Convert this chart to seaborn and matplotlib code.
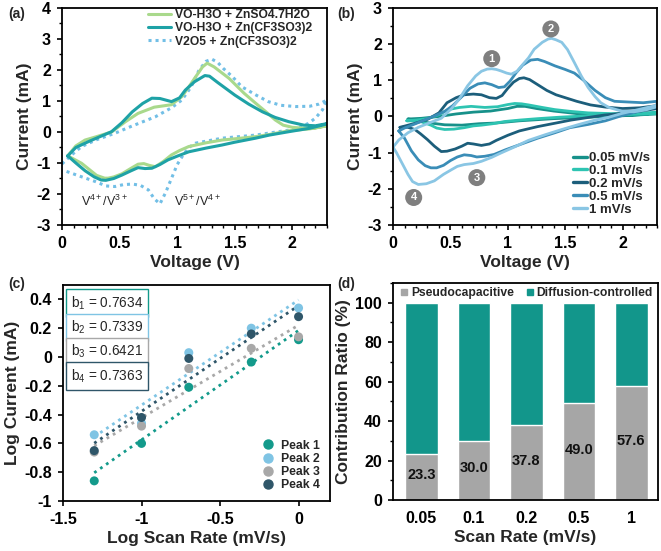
import numpy as np
import pandas as pd
import matplotlib
matplotlib.use("Agg")
import matplotlib.pyplot as plt
from matplotlib.lines import Line2D
from matplotlib.ticker import MultipleLocator, FuncFormatter
import seaborn as sns

# ---- (a) CV comparison, upper branch then lower branch ----
GREEN_UP_V = [0.05, 0.12, 0.2, 0.3, 0.43, 0.55, 0.66, 0.8, 0.95, 1.04, 1.1, 1.16, 1.22, 1.26, 1.32,
              1.45, 1.58, 1.68, 1.78, 1.85, 1.92, 2.0, 2.1, 2.2, 2.3]
GREEN_UP_I = [-0.77, -0.45, -0.26, -0.15, 0.0, 0.33, 0.6, 0.8, 0.88, 1.14, 1.45, 1.78, 2.1, 2.22, 2.1,
              1.73, 1.25, 0.93, 0.62, 0.39, 0.22, 0.15, 0.12, 0.13, 0.2]
GREEN_DN_V = [2.3, 2.15, 1.97, 1.8, 1.68, 1.5, 1.39, 1.25, 1.1, 1.02, 0.95, 0.88, 0.81, 0.76, 0.71,
              0.66, 0.6, 0.52, 0.45, 0.4, 0.37, 0.3, 0.26, 0.17, 0.05]
GREEN_DN_I = [0.2, 0.1, 0.04, -0.08, -0.15, -0.22, -0.26, -0.35, -0.47, -0.6, -0.74, -0.95, -1.12,
              -1.08, -1.02, -1.04, -1.17, -1.35, -1.45, -1.49, -1.49, -1.4, -1.28, -1.01, -0.77]

TEAL_UP_V = [0.05, 0.12, 0.23, 0.33, 0.43, 0.52, 0.61, 0.7, 0.78, 0.85, 0.95, 1.02, 1.07, 1.15, 1.24,
             1.28, 1.35, 1.5, 1.62, 1.74, 1.85, 1.97, 2.1, 2.2, 2.3]
TEAL_UP_I = [-0.77, -0.5, -0.31, -0.15, 0.01, 0.3, 0.65, 0.92, 1.09, 1.08, 0.98, 1.1, 1.35, 1.62, 1.82,
             1.8, 1.6, 1.19, 0.9, 0.65, 0.47, 0.33, 0.22, 0.2, 0.27]
TEAL_DN_V = [2.3, 2.15, 1.97, 1.8, 1.68, 1.5, 1.39, 1.25, 1.1, 1.0, 0.92, 0.85, 0.78, 0.72, 0.66, 0.6,
             0.52, 0.45, 0.38, 0.34, 0.28, 0.2, 0.12, 0.05]
TEAL_DN_I = [0.26, 0.12, 0.01, -0.1, -0.2, -0.33, -0.42, -0.52, -0.64, -0.78, -0.9, -1.05, -1.17, -1.18,
             -1.15, -1.25, -1.39, -1.5, -1.56, -1.55, -1.45, -1.25, -1.0, -0.77]

V2O5_UP_V = [0.0, 0.08, 0.17, 0.3, 0.46, 0.6, 0.81, 0.95, 1.04, 1.12, 1.19, 1.25, 1.3, 1.35, 1.4, 1.48,
             1.56, 1.68, 1.79, 1.9, 2.03, 2.15, 2.23, 2.3]
V2O5_UP_I = [-1.03, -0.75, -0.47, -0.25, -0.04, 0.18, 0.49, 0.78, 1.03, 1.45, 2.0, 2.28, 2.35, 2.25,
             2.05, 1.78, 1.46, 1.2, 0.98, 0.86, 0.82, 0.83, 0.9, 1.03]
V2O5_DN_V = [2.3, 2.26, 2.2, 2.14, 2.05, 1.97, 1.68, 1.39, 1.16, 1.1, 1.05, 1.0, 0.95, 0.9, 0.85, 0.8,
             0.75, 0.68, 0.61, 0.53, 0.46, 0.38, 0.29, 0.15, 0.03, 0.0]
V2O5_DN_I = [1.03, 0.71, 0.45, 0.28, 0.13, 0.06, -0.1, -0.2, -0.36, -0.5, -0.75, -1.05, -1.5, -1.95,
             -2.32, -2.15, -1.87, -1.72, -1.68, -1.7, -1.76, -1.74, -1.6, -1.42, -1.26, -1.25]

LABELS_A = ["VO-H3O + ZnSO4.7H2O", "VO-H3O + Zn(CF3SO3)2", "V2O5 + Zn(CF3SO3)2"]

# ---- (b) CV at different scan rates ----
RATES = ["0.05 mV/s", "0.1 mV/s", "0.2 mV/s", "0.5 mV/s", "1 mV/s"]

R005_UP_V = [0.13, 0.25, 0.4, 0.55, 0.7, 0.85, 1.0, 1.08, 1.15, 1.25, 1.4, 1.6, 1.8, 2.0, 2.15, 2.3]
R005_UP_I = [-0.07, -0.05, 0.0, 0.07, 0.12, 0.15, 0.22, 0.28, 0.28, 0.22, 0.15, 0.08, 0.04, 0.03, 0.05, 0.1]
R005_DN_V = [2.3, 2.0, 1.7, 1.4, 1.1, 0.9, 0.75, 0.6, 0.45, 0.3, 0.2, 0.13]
R005_DN_I = [0.07, 0.02, -0.02, -0.06, -0.12, -0.18, -0.2, -0.24, -0.23, -0.17, -0.1, -0.07]

R01_UP_V = [0.12, 0.2, 0.3, 0.4, 0.48, 0.58, 0.68, 0.8, 0.91, 1.0, 1.06, 1.12, 1.18, 1.3, 1.41, 1.55,
            1.7, 1.9, 2.1, 2.3]
R01_UP_I = [-0.12, -0.1, -0.06, 0.05, 0.19, 0.25, 0.28, 0.25, 0.27, 0.33, 0.36, 0.35, 0.32, 0.25, 0.19,
            0.14, 0.1, 0.08, 0.08, 0.12]
R01_DN_V = [2.3, 2.0, 1.7, 1.45, 1.26, 1.1, 0.97, 0.87, 0.77, 0.7, 0.62, 0.53, 0.45, 0.38, 0.33, 0.25,
            0.18, 0.12]
R01_DN_I = [0.08, 0.05, 0.02, -0.02, -0.06, -0.1, -0.14, -0.2, -0.24, -0.26, -0.31, -0.35, -0.36, -0.32,
            -0.24, -0.15, -0.12, -0.12]

R02_UP_V = [0.06, 0.12, 0.2, 0.3, 0.4, 0.47, 0.55, 0.62, 0.7, 0.77, 0.84, 0.9, 0.95, 1.0, 1.05, 1.1,
            1.14, 1.19, 1.26, 1.34, 1.42, 1.5, 1.6, 1.72, 1.85, 2.0, 2.15, 2.3]
R02_UP_I = [-0.3, -0.25, -0.18, -0.08, 0.1, 0.38, 0.52, 0.6, 0.62, 0.6, 0.52, 0.5, 0.58, 0.78, 0.95,
            1.05, 1.07, 1.02, 0.88, 0.72, 0.6, 0.52, 0.42, 0.32, 0.26, 0.22, 0.24, 0.3]
R02_DN_V = [2.3, 2.1, 1.84, 1.55, 1.26, 1.1, 1.0, 0.9, 0.84, 0.77, 0.7, 0.65, 0.6, 0.54, 0.47, 0.42,
            0.36, 0.3, 0.24, 0.19, 0.13, 0.06]
R02_DN_I = [0.22, 0.12, 0.04, -0.1, -0.28, -0.4, -0.52, -0.66, -0.76, -0.8, -0.76, -0.74, -0.82, -0.9,
            -0.96, -0.97, -0.82, -0.64, -0.48, -0.36, -0.3, -0.3]

R05_UP_V = [0.05, 0.1, 0.18, 0.25, 0.35, 0.45, 0.52, 0.6, 0.67, 0.74, 0.8, 0.86, 0.92, 0.97, 1.02, 1.07,
            1.13, 1.2, 1.26, 1.32, 1.41, 1.5, 1.58, 1.66, 1.76, 1.85, 1.93, 2.05, 2.18, 2.3]
R05_UP_I = [-0.4, -0.32, -0.22, -0.13, 0.0, 0.14, 0.3, 0.55, 0.78, 0.9, 0.93, 0.88, 0.8, 0.82, 0.98,
            1.2, 1.42, 1.56, 1.58, 1.52, 1.4, 1.3, 1.2, 1.0, 0.72, 0.52, 0.42, 0.4, 0.38, 0.42]
R05_DN_V = [2.3, 2.15, 1.99, 1.85, 1.7, 1.54, 1.41, 1.26, 1.12, 0.98, 0.88, 0.8, 0.73, 0.68, 0.62, 0.56,
            0.5, 0.44, 0.38, 0.33, 0.28, 0.22, 0.16, 0.1, 0.05]
R05_DN_I = [0.3, 0.15, 0.02, -0.12, -0.22, -0.31, -0.45, -0.6, -0.76, -0.92, -1.05, -1.1, -1.12, -1.08,
            -1.06, -1.12, -1.22, -1.35, -1.42, -1.42, -1.36, -1.2, -0.95, -0.6, -0.4]

R1_UP_V = [0.0, 0.05, 0.13, 0.22, 0.33, 0.42, 0.51, 0.58, 0.65, 0.72, 0.77, 0.82, 0.86, 0.9, 0.94, 0.99,
           1.03, 1.08, 1.12, 1.18, 1.23, 1.3, 1.35, 1.38, 1.42, 1.47, 1.52, 1.58, 1.64, 1.7, 1.76, 1.81,
           1.88, 1.99, 2.1, 2.2, 2.3]
R1_UP_I = [-0.85, -0.65, -0.45, -0.3, -0.16, -0.05, 0.22, 0.5, 0.85, 1.12, 1.25, 1.31, 1.32, 1.3, 1.26,
           1.2, 1.17, 1.25, 1.4, 1.62, 1.86, 2.05, 2.14, 2.16, 2.12, 2.05, 1.85, 1.49, 1.12, 0.8, 0.55,
           0.38, 0.25, 0.15, 0.13, 0.18, 0.27]
R1_DN_V = [2.3, 2.15, 1.99, 1.88, 1.76, 1.62, 1.47, 1.33, 1.18, 1.06, 0.94, 0.86, 0.77, 0.7, 0.62, 0.56,
           0.51, 0.44, 0.36, 0.29, 0.22, 0.17, 0.13, 0.08, 0.03, 0.0]
R1_DN_I = [0.31, 0.2, 0.08, -0.02, -0.1, -0.22, -0.36, -0.5, -0.66, -0.84, -1.01, -1.13, -1.24, -1.3,
           -1.33, -1.38, -1.47, -1.6, -1.78, -1.86, -1.88, -1.8, -1.6, -1.3, -1.0, -0.85]

# ---- (c) log peak current vs log scan rate ----
LOG_RATE = [-1.301, -1.0, -0.699, -0.301, 0.0]
PEAK_1 = [-0.86, -0.6, -0.21, -0.035, 0.12]
PEAK_2 = [-0.54, -0.46, 0.03, 0.2, 0.34]
PEAK_3 = [-0.66, -0.48, -0.08, 0.06, 0.14]
PEAK_4 = [-0.65, -0.42, -0.01, 0.16, 0.28]
PEAK_NAMES = ["Peak 1", "Peak 2", "Peak 3", "Peak 4"]
B_VALUES = ["0.7634", "0.7339", "0.6421", "0.7363"]

# ---- (d) contribution ratio ----
SCAN_RATES = ["0.05", "0.1", "0.2", "0.5", "1"]
PSEUDO = [23.3, 30.0, 37.8, 49.0, 57.6]

C_GREEN = "#a9d98c"
C_TEAL_A = "#1ea2a6"
C_DOT = "#72bfe6"
RATE_COLORS = ["#17918a", "#2ec4b2", "#1c5e7b", "#3a8db7", "#8ac6e4"]
PEAK_COLORS = ["#139a8b", "#7fc4e4", "#a8a8a8", "#2f5669"]
C_BAR_TEAL = "#12968b"
C_BAR_GREY = "#a6a6a6"

sns.set_theme(style="ticks")
plt.rcParams["font.family"] = ["Liberation Sans", "DejaVu Sans"]
plt.rcParams["font.weight"] = "bold"
plt.rcParams["axes.labelweight"] = "bold"
plt.rcParams["axes.linewidth"] = 1.3
plt.rcParams["xtick.major.width"] = 1.2
plt.rcParams["ytick.major.width"] = 1.2
plt.rcParams["xtick.minor.width"] = 1.0
plt.rcParams["ytick.minor.width"] = 1.0
plt.rcParams["mathtext.fontset"] = "custom"
plt.rcParams["mathtext.rm"] = "Liberation Sans"
plt.rcParams["mathtext.it"] = "Liberation Sans:italic"
plt.rcParams["mathtext.bf"] = "Liberation Sans:bold"
plt.rcParams["mathtext.default"] = "regular"

TICK_FS = 11.5
LABEL_FS = 12.5

fig = plt.figure(figsize=(6.61, 5.51), dpi=100)
ax_a = fig.add_axes([0.0938, 0.5917, 0.4009, 0.3938])
ax_b = fig.add_axes([0.5946, 0.5917, 0.3994, 0.3938])
ax_c = fig.add_axes([0.0953, 0.0907, 0.4039, 0.3921])
ax_d = fig.add_axes([0.5946, 0.0926, 0.4009, 0.3938])

fmt_g = FuncFormatter(lambda v, p: "%g" % round(v, 6))


def style_axes(ax):
    for s in ax.spines.values():
        s.set_visible(True)
        s.set_color("black")
    ax.tick_params(axis="both", which="major", labelsize=TICK_FS, length=3.5, direction="out",
                   colors="black", pad=4.5)
    ax.tick_params(axis="both", which="minor", length=2.5, direction="out", colors="black")
    for lab in ax.get_xticklabels() + ax.get_yticklabels():
        lab.set_fontweight("bold")


def draw_loop(ax, up_v, up_i, dn_v, dn_i, color, lw=2.0, ls="-"):
    v = np.array(up_v + dn_v)
    i = np.array(up_i + dn_i)
    sns.lineplot(x=v, y=i, sort=False, estimator=None, ax=ax, color=color, lw=lw,
                 linestyle=ls, legend=False)


# (a)
draw_loop(ax_a, V2O5_UP_V, V2O5_UP_I, V2O5_DN_V, V2O5_DN_I, C_DOT, lw=2.2, ls=(0, (1, 1.3)))
draw_loop(ax_a, GREEN_UP_V, GREEN_UP_I, GREEN_DN_V, GREEN_DN_I, C_GREEN, lw=2.2)
draw_loop(ax_a, TEAL_UP_V, TEAL_UP_I, TEAL_DN_V, TEAL_DN_I, C_TEAL_A, lw=2.2)
ax_a.set_xlim(0, 2.3)
ax_a.set_ylim(-3, 4)
ax_a.xaxis.set_major_locator(MultipleLocator(0.5))
ax_a.xaxis.set_minor_locator(MultipleLocator(0.1))
ax_a.yaxis.set_major_locator(MultipleLocator(1))
ax_a.yaxis.set_minor_locator(MultipleLocator(0.5))
ax_a.xaxis.set_major_formatter(fmt_g)
ax_a.yaxis.set_major_formatter(fmt_g)
ax_a.set_xlabel("Voltage (V)", fontsize=LABEL_FS, labelpad=3)
ax_a.set_ylabel("Current (mA)", fontsize=LABEL_FS, labelpad=3)
ax_a.text(0.37, -2.25, r"V$^{4+}$/V$^{3+}$", fontsize=9, fontweight="normal", ha="center", va="center")
ax_a.text(1.18, -2.25, r"V$^{5+}$/V$^{4+}$", fontsize=9, fontweight="normal", ha="center", va="center")
handles_a = [Line2D([], [], color=C_GREEN, lw=2.2),
             Line2D([], [], color=C_TEAL_A, lw=2.2),
             Line2D([], [], color=C_DOT, lw=2.2, linestyle=(0, (1, 1.3)))]
ax_a.legend(handles_a, LABELS_A, loc="upper right", bbox_to_anchor=(0.97, 1.03), frameon=False,
            prop={"size": 8.7, "weight": "bold"}, handlelength=1.9, handletextpad=0.3,
            labelspacing=0.12, borderaxespad=0.2)
style_axes(ax_a)

# (b)
loops_b = [(R005_UP_V, R005_UP_I, R005_DN_V, R005_DN_I),
           (R01_UP_V, R01_UP_I, R01_DN_V, R01_DN_I),
           (R02_UP_V, R02_UP_I, R02_DN_V, R02_DN_I),
           (R05_UP_V, R05_UP_I, R05_DN_V, R05_DN_I),
           (R1_UP_V, R1_UP_I, R1_DN_V, R1_DN_I)]
for loop, col in zip(loops_b, RATE_COLORS):
    draw_loop(ax_b, *loop, color=col, lw=2.0)
ax_b.set_xlim(0, 2.3)
ax_b.set_ylim(-3, 3)
ax_b.xaxis.set_major_locator(MultipleLocator(0.5))
ax_b.xaxis.set_minor_locator(MultipleLocator(0.1))
ax_b.yaxis.set_major_locator(MultipleLocator(1))
ax_b.yaxis.set_minor_locator(MultipleLocator(0.5))
ax_b.xaxis.set_major_formatter(fmt_g)
ax_b.yaxis.set_major_formatter(fmt_g)
ax_b.set_xlabel("Voltage (V)", fontsize=LABEL_FS, labelpad=3)
ax_b.set_ylabel("Current (mA)", fontsize=LABEL_FS, labelpad=3)
# numbered peak markers
badges = [("1", 0.86, 1.6), ("2", 1.375, 2.42), ("3", 0.73, -1.69), ("4", 0.18, -2.24)]
for num, bx, by in badges:
    ax_b.scatter([bx], [by], s=150, color="#7f7f7f", zorder=5, edgecolors="none")
    ax_b.text(bx, by, num, color="white", fontsize=8, fontweight="bold", ha="center", va="center",
              zorder=6)
handles_b = [Line2D([], [], color=c, lw=2.4) for c in RATE_COLORS]
ax_b.legend(handles_b, RATES, loc="lower right", bbox_to_anchor=(1.01, 0.0), frameon=False,
            prop={"size": 9.5, "weight": "bold"}, handlelength=1.1, handletextpad=0.15,
            labelspacing=0.05, borderaxespad=0.3)
style_axes(ax_b)

# (c)
peaks = [PEAK_1, PEAK_2, PEAK_3, PEAK_4]
for vals, col in zip(peaks, PEAK_COLORS):
    sns.regplot(x=np.array(LOG_RATE), y=np.array(vals), ax=ax_c, scatter=False, ci=None, truncate=True,
                line_kws={"color": col, "lw": 2.0, "linestyle": (0, (1, 1.6))})
df_c = pd.DataFrame({
    "x": LOG_RATE * 4,
    "y": PEAK_1 + PEAK_2 + PEAK_3 + PEAK_4,
    "peak": np.repeat(PEAK_NAMES, len(LOG_RATE)),
})
sns.scatterplot(data=df_c, x="x", y="y", hue="peak", palette=PEAK_COLORS, s=42, edgecolor="none",
                ax=ax_c, zorder=4, legend=False)
ax_c.set_xlim(-1.5, 0.2)
ax_c.set_ylim(-1, 0.5)
ax_c.xaxis.set_major_locator(MultipleLocator(0.5))
ax_c.yaxis.set_major_locator(MultipleLocator(0.2))
ax_c.xaxis.set_major_formatter(fmt_g)
ax_c.yaxis.set_major_formatter(fmt_g)
ax_c.set_xlabel("Log Scan Rate (mV/s)", fontsize=LABEL_FS, labelpad=3)
ax_c.set_ylabel("Log Current (mA)", fontsize=LABEL_FS, labelpad=3)
for k, (bv, col) in enumerate(zip(B_VALUES, PEAK_COLORS)):
    ax_c.text(0.03, 0.915 - k * 0.112, r"b$_{%d}$ = %s" % (k + 1, bv), transform=ax_c.transAxes,
              fontsize=9.8, fontweight="normal", ha="left", va="center",
              bbox=dict(boxstyle="square,pad=0.38", facecolor="white", edgecolor=col, lw=1.0))
handles_c = [Line2D([], [], marker="o", color=c, linestyle="none", markersize=6.5) for c in PEAK_COLORS]
ax_c.legend(handles_c, PEAK_NAMES, loc="lower right", bbox_to_anchor=(1.0, 0.0), frameon=False,
            prop={"size": 8.8, "weight": "bold"}, handletextpad=0.1, labelspacing=0.1,
            borderaxespad=0.4)
style_axes(ax_c)

# (d)
df_d = pd.DataFrame({"rate": SCAN_RATES, "pseudo": PSEUDO, "total": [100.0] * len(PSEUDO)})
sns.barplot(data=df_d, x="rate", y="total", color=C_BAR_TEAL, width=0.62, ax=ax_d, saturation=1,
            order=SCAN_RATES)
sns.barplot(data=df_d, x="rate", y="pseudo", color=C_BAR_GREY, width=0.62, ax=ax_d, saturation=1,
            order=SCAN_RATES)
for k, val in enumerate(PSEUDO):
    ax_d.text(k, val / 2 + 1, "%.1f" % val, fontsize=10.5, fontweight="bold", ha="center",
              va="center", color="#111111")
ax_d.set_xlim(-0.54, 4.51)
ax_d.set_ylim(0, 110)
ax_d.yaxis.set_major_locator(MultipleLocator(20))
ax_d.yaxis.set_minor_locator(MultipleLocator(10))
ax_d.set_xlabel("Scan Rate (mV/s)", fontsize=LABEL_FS, labelpad=3)
ax_d.set_ylabel("Contribution Ratio (%)", fontsize=LABEL_FS, labelpad=3)
handles_d = [Line2D([], [], marker="s", color=C_BAR_GREY, linestyle="none", markersize=5),
             Line2D([], [], marker="s", color=C_BAR_TEAL, linestyle="none", markersize=5)]
ax_d.legend(handles_d, ["Pseudocapacitive", "Diffusion-controlled"], loc="upper center",
            bbox_to_anchor=(0.5, 1.01), ncol=2, frameon=False, prop={"size": 8.7, "weight": "bold"},
            handletextpad=0.05, columnspacing=0.8, borderaxespad=0.1, handlelength=1.0)
style_axes(ax_d)
ax_d.tick_params(axis="x", which="both", length=0, pad=8)

for lab, (px, py) in zip(["(a)", "(b)", "(c)", "(d)"],
                         [(0.012, 0.975), (0.51, 0.975), (0.012, 0.485), (0.51, 0.485)]):
    fig.text(px, py, lab, fontsize=10, fontweight="bold", ha="left", va="center")

fig.savefig("out.png", dpi=100)
